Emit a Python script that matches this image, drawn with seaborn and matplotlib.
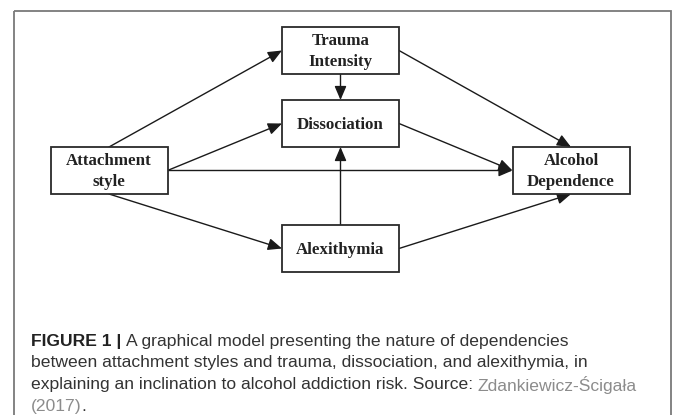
import seaborn as sns
from matplotlib import pyplot as plt
from matplotlib.patches import Rectangle

sns.set_theme(style='white')

# nodes of the model
nodes = ['Trauma\nIntensity', 'Dissociation', 'Attachment\nstyle', 'Alcohol\nDependence', 'Alexithymia']
node_x = [340.5, 340.5, 109, 571, 340.5]
node_y = [50.5, 123.5, 170.5, 170.5, 248.5]

# edges: (source, side) -> (target, side)
edge_from = [(2, 'top'), (2, 'right'), (2, 'right'), (2, 'bottom'), (0, 'bottom'), (4, 'top'), (0, 'right'), (1, 'right'), (4, 'right')]
edge_to = [(0, 'left'), (1, 'left'), (3, 'left'), (4, 'left'), (1, 'top'), (1, 'bottom'), (3, 'top'), (3, 'left'), (3, 'bottom')]

caption_lines = [
    'A graphical model presenting the nature of dependencies',
    'between attachment styles and trauma, dissociation, and alexithymia, in',
    'explaining an inclination to alcohol addiction risk. Source: ',
    '(2017)',
]
source_name = 'Zdankiewicz-Ścigała'

W, H = 117, 47
FS = 12.6

def anchor(i, side):
    x, y = node_x[i], node_y[i]
    if side == 'top':
        return x, y - H / 2
    if side == 'bottom':
        return x, y + H / 2
    if side == 'left':
        return x - W / 2, y
    return x + W / 2, y


def right_edge(t):
    fig.canvas.draw()
    bb = t.get_window_extent()
    return ax.transData.inverted().transform((bb.x1, 0))[0]


fig = plt.figure(figsize=(6.73, 4.15), dpi=100)
ax = fig.add_axes([0, 0, 1, 1])
ax.set_xlim(0, 673)
ax.set_ylim(415, 0)
ax.axis('off')

# outer frame
ax.add_patch(Rectangle((14, 11.5), 657, 420, fill=False, edgecolor='#7a7a7a', linewidth=1.3))

for i, name in enumerate(nodes):
    ax.add_patch(Rectangle((node_x[i] - W / 2, node_y[i] - H / 2), W, H, fill=True,
                           facecolor='white', edgecolor='#2a2a2a', linewidth=1.3, zorder=3))
    ax.text(node_x[i], node_y[i] + 1, name, ha='center', va='center', family='Liberation Serif',
            weight='bold', fontsize=12.2, color='#222222', linespacing=1.35, zorder=4)

for (s, ss), (t, ts) in zip(edge_from, edge_to):
    ax.annotate('', xy=anchor(t, ts), xytext=anchor(s, ss),
                arrowprops=dict(arrowstyle='-|>,head_length=0.7,head_width=0.3', color='#1a1a1a',
                                lw=1.0, shrinkA=0, shrinkB=0), zorder=2)

# caption
cx, cy, dy = 31, 341, 21.8
t = ax.text(cx, cy, 'FIGURE 1 | ', family='Liberation Sans', weight='bold', fontsize=FS,
            color='#222222', va='center')
ax.text(right_edge(t), cy, caption_lines[0], family='Liberation Sans', fontsize=FS, color='#333333', va='center')
ax.text(cx, cy + dy, caption_lines[1], family='Liberation Sans', fontsize=FS, color='#333333', va='center')
t3 = ax.text(cx, cy + 2 * dy, caption_lines[2], family='Liberation Sans', fontsize=FS, color='#333333', va='center')
ax.text(right_edge(t3), cy + 2 * dy, source_name, family='Liberation Sans', fontsize=FS, color='#8c8c8c', va='center')
t5 = ax.text(cx, cy + 3 * dy, caption_lines[3], family='Liberation Sans', fontsize=FS, color='#8c8c8c', va='center')
ax.text(right_edge(t5), cy + 3 * dy, '.', family='Liberation Sans', fontsize=FS, color='#333333', va='center')

fig.savefig('out.png', dpi=100, facecolor='white')
